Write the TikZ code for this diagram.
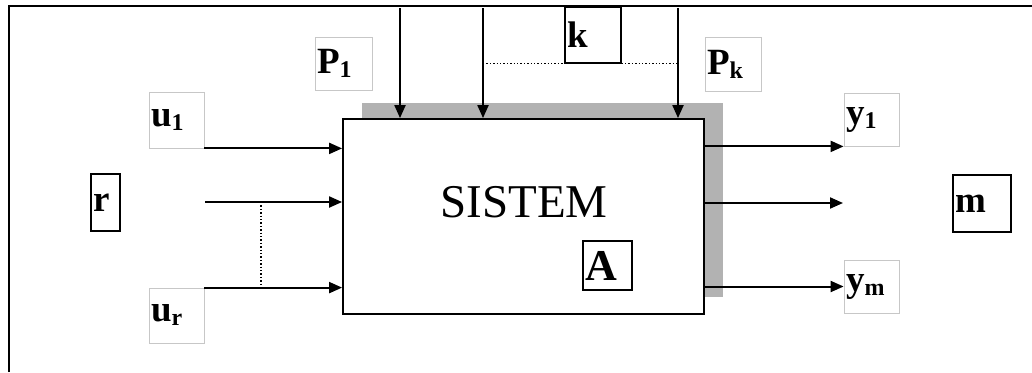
\documentclass[tikz,border=0pt]{standalone}
\usepackage{fontspec}
\setmainfont{Liberation Serif}
\usetikzlibrary{arrows.meta,positioning}

% lowered index for the signal names
\newcommand{\lsub}[1]{\raisebox{-4pt}{\fontsize{24}{24}\selectfont #1}}

\tikzset{
  lbl/.style={draw=black!22, line width=0.8pt, rectangle, inner sep=2pt,
    minimum height=54pt, text width=51pt, align=left,
    font=\fontsize{37}{40}\selectfont\bfseries},
  tag/.style={lbl, draw=black, line width=1.3pt},
  sig/.style={line width=2pt, -{Triangle[length=13pt,width=11pt]}},
  tie/.style={line width=1.4pt, dotted},
}

\begin{document}
\begin{tikzpicture}[x=1pt, y=-1pt]
      \useasboundingbox (0,0) rectangle (1032,372);
      \draw[line width=2.2pt] (9,372) -- (9,6) -- (1032,6);

      % system block with its shadow
      \fill[black!30] (362,103) rectangle (723,297);
      \node[draw, line width=1.8pt, fill=white, minimum width=361pt, minimum height=195pt] (box) at (523.5,216.5) {};
      \node[font=\fontsize{47}{50}\selectfont] (title) at (524,202) {SISTEM};
      \node[tag, text width=45pt, minimum height=49pt, font=\fontsize{44}{44}\selectfont\bfseries] (a) at (607.5,265.5) {A};

      % labels
      \node[lbl, text width=53pt, minimum height=53pt] (p1) at (343.5,63.5) {P\lsub{1}};
      \node[lbl, text width=52pt] (pk) at (733,64) {P\lsub{k}};
      \node[lbl, minimum height=56pt] (u1) at (176.5,120) {u\lsub{1}};
      \node[lbl, minimum height=55pt] (ur) at (176.5,315.5) {u\lsub{r}};
      \node[lbl, minimum height=53pt] (y1) at (871.5,119.5) {y\lsub{1}};
      \node[lbl, minimum height=53pt] (ym) at (871.5,286.5) {y\lsub{m}};
      \node[tag, text width=52pt, minimum height=56pt] (k) at (593,35) {k};
      \node[tag, text width=25pt, minimum height=57pt] (r) at (105.5,202.5) {r};
      \node[tag, text width=54pt, minimum height=57pt] (m) at (982,203.5) {m};

      % disturbances from above
      \coordinate (p1top) at (400,8);
      \coordinate (p2top) at (483,8);
      \coordinate (pktop) at (678,8);
      \draw[sig] (p1top) -- (p1top |- box.north);
      \draw[sig] (p2top) -- (p2top |- box.north);
      \draw[sig] (pktop) -- (pktop |- box.north);
      \draw[tie] (p2top |- k.south) -- (k.south west)
                 (k.south east) -- (pktop |- k.south);

      % inputs
      \coordinate (in2) at (205,202);
      \draw[sig] (u1.south east) -- (u1.south east -| box.west);
      \draw[sig] (in2) -- (in2 -| box.west);
      \draw[sig] (ur.north east) -- (ur.north east -| box.west);
      \coordinate (t1) at (261,202);
      \draw[tie] (t1) -- (t1 |- ur.north east);

      % outputs
      \coordinate (out2) at (843,203);
      \draw[sig] (box.east |- y1.south west) -- (y1.south west);
      \draw[sig] (out2 -| box.east) -- (out2);
      \draw[sig] (ym.west -| box.east) -- (ym.west);
\end{tikzpicture}
\end{document}
